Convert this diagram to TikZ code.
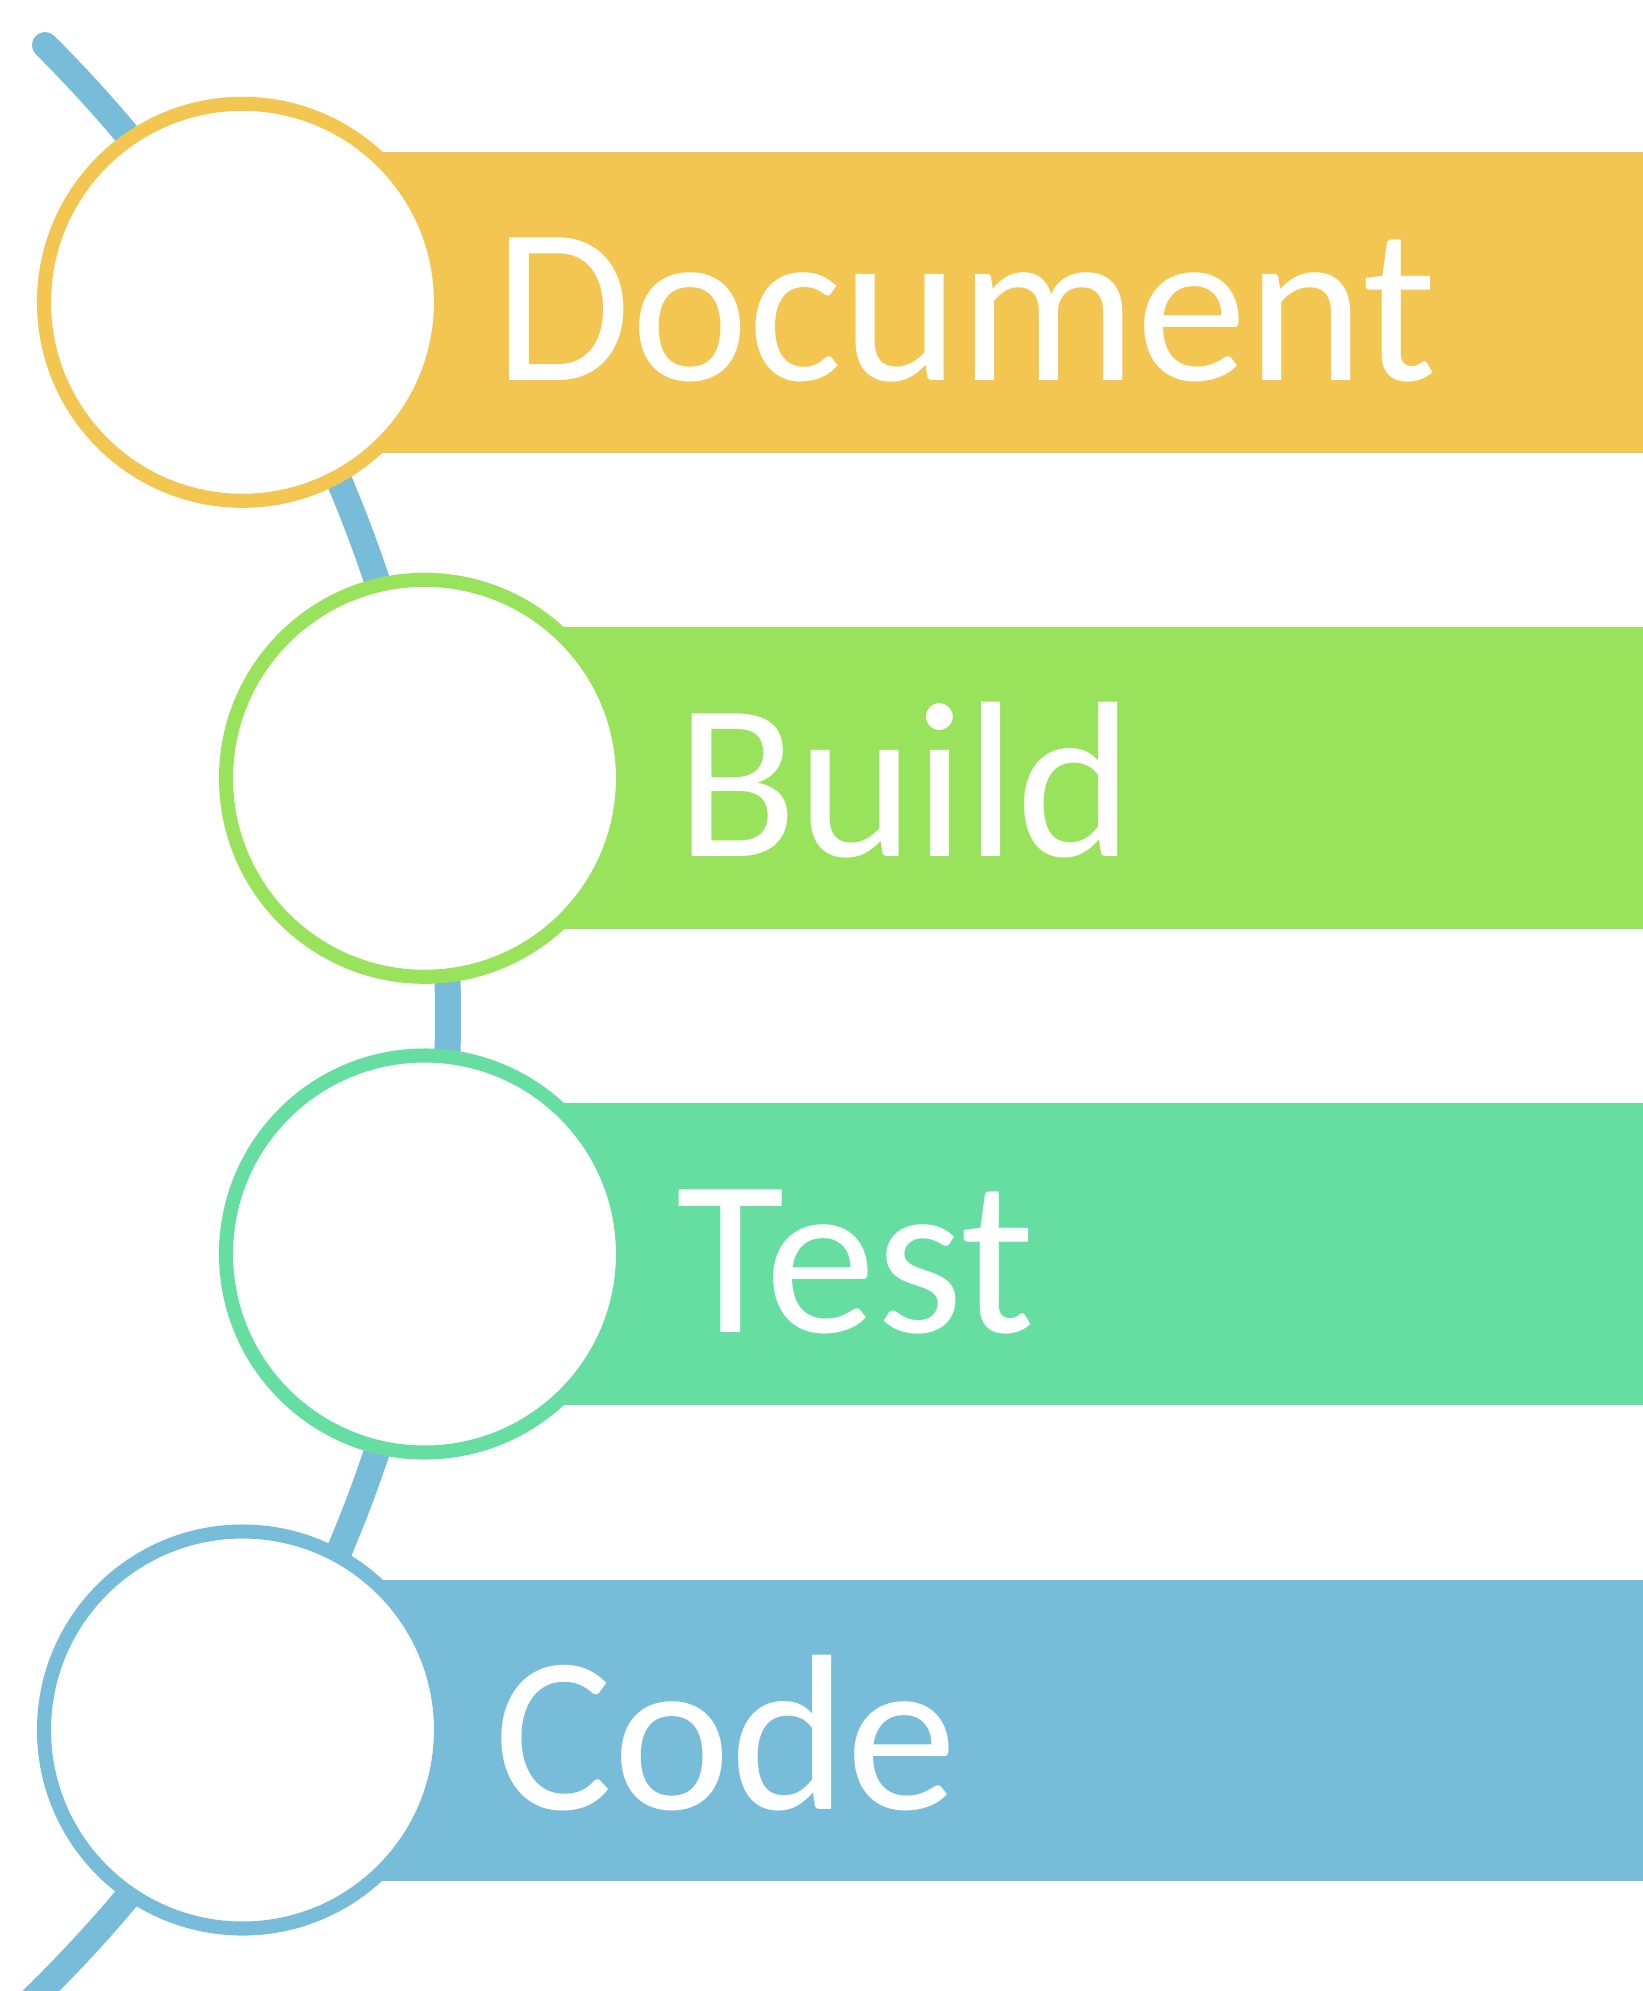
\documentclass[tikz,border=0pt]{standalone}
\usepackage{fontspec}
\setmainfont{Carlito}
\definecolor{cyel}{HTML}{F2C650}
\definecolor{cgrn}{HTML}{98E25C}
\definecolor{cteal}{HTML}{67DEA1}
\definecolor{cblue}{HTML}{77BCD8}
\begin{document}
\begin{tikzpicture}[x=0.01cm,y=0.01cm,
  band/.style={rectangle, inner sep=0pt, outer sep=0pt, minimum height=3.014cm, anchor=west},
  ring/.style={draw=#1, fill=white, line width=4pt},
  lbl/.style={text=white, inner sep=0pt, anchor=base west,
              font=\fontsize{63.2}{70}\selectfont},
  spine/.style={draw=cblue, line width=7.4pt, line cap=round}]
\useasboundingbox (0,0) rectangle (1643,-1991);
% bands
\node[band, fill=cyel,  minimum width=12.615cm] (b1) at (381.5,-302.3) {};
\node[band, fill=cgrn,  minimum width=10.795cm] (b2) at (563.5,-777.8) {};
\node[band, fill=cteal, minimum width=10.795cm] (b3) at (563.5,-1254) {};
\node[band, fill=cblue, minimum width=12.615cm] (b4) at (381.5,-1730.3) {};
% spine arc
\coordinate (sc) at (-923.3,-1016);
\path[spine] (sc) ++(45.08:1371.3) arc[start angle=45.08, end angle=-46.2, radius=1371.3];
% circles
\coordinate (c1) at (242.5,-302.3);
\coordinate (c2) at (424.5,-778.3);
\coordinate (c3) at (424.5,-1254);
\coordinate (c4) at (242.5,-1730);
\path[ring=cyel]  (c1) circle[radius=198.5];
\path[ring=cgrn]  (c2) circle[radius=198.5];
\path[ring=cteal] (c3) circle[radius=198.5];
\path[ring=cblue] (c4) circle[radius=198.5];
% labels
\node[lbl] (t1) at (494,-380.5) {Document};
\node[lbl] (t2) at (676,-856.5) {Build};
\node[lbl] (t3) at (676,-1332.5) {Test};
\node[lbl] (t4) at (494,-1809) {Code};
\end{tikzpicture}
\end{document}
